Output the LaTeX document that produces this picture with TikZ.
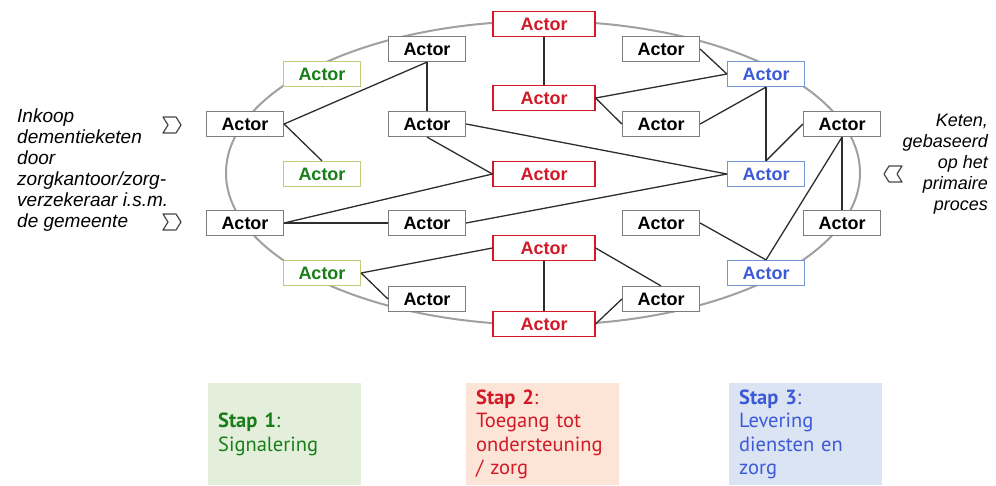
\documentclass[tikz,border=0pt]{standalone}
\usepackage{fontspec}
\setmainfont{Liberation Sans}
\newfontfamily\stapfont{PT Sans}
\usetikzlibrary{positioning}
\definecolor{actorgray}{RGB}{125, 125, 125}
\definecolor{linkgray}{RGB}{45, 45, 45}
\definecolor{ringgray}{RGB}{160, 160, 160}
\definecolor{chevgray}{RGB}{70, 70, 70}
\definecolor{greenline}{RGB}{190, 205, 125}
\definecolor{greentext}{RGB}{25, 125, 25}
\definecolor{redmain}{RGB}{210, 25, 40}
\definecolor{blueline}{RGB}{115, 150, 210}
\definecolor{bluetext}{RGB}{60, 90, 215}
\definecolor{greenfill}{RGB}{227, 239, 219}
\definecolor{redfill}{RGB}{252, 229, 215}
\definecolor{bluefill}{RGB}{219, 228, 243}

\begin{document}
\begin{tikzpicture}[x=1pt, y=-1pt,
  actor/.style={draw=actorgray, fill=white, line width=1.2pt, minimum width=77pt, minimum height=25pt, inner sep=0pt, font=\fontsize{18}{18}\selectfont\bfseries},
  greenactor/.style={actor, draw=greenline, text=greentext},
  redactor/.style={actor, draw=redmain, text=redmain, minimum width=102pt},
  blueactor/.style={actor, draw=blueline, text=bluetext},
  link/.style={draw=linkgray, line width=1.3pt},
  ring/.style={draw=ringgray, line width=2pt},
  chevron/.style={draw=chevgray, line width=1.2pt, line join=round},
  sidetext/.style={font=\fontsize{18}{21}\selectfont\itshape, inner sep=0pt},
  stapbox/.style={minimum height=102pt, text width=133pt, inner xsep=10pt, inner ysep=0pt, align=left, anchor=north west, font=\stapfont\fontsize{20.5}{23.5}\selectfont}]
  \useasboundingbox (0, 0) rectangle (996, 485);

  % the chain as a ring
  \draw[ring] (543, 173) ellipse (317 and 152);

  % step 1 column
  \node[actor] (l1) at (245, 124) {Actor};
  \node[actor] (l2) at (245, 223) {Actor};
  \node[greenactor] (g1) at (322, 74) {Actor};
  \node[greenactor] (g2) at (322, 174) {Actor};
  \node[greenactor] (g3) at (322, 273) {Actor};
  \node[actor] (m1) at (427, 49) {Actor};
  \node[actor] (m2) at (427, 124) {Actor};
  \node[actor] (m3) at (427, 223) {Actor};
  \node[actor] (m4) at (427, 299) {Actor};

  % step 2 column
  \node[redactor] (r1) at (544, 24) {Actor};
  \node[redactor] (r2) at (544, 98) {Actor};
  \node[redactor] (r3) at (544, 174) {Actor};
  \node[redactor] (r4) at (544, 248) {Actor};
  \node[redactor] (r5) at (544, 324) {Actor};

  % step 3 column
  \node[actor] (n1) at (661, 49) {Actor};
  \node[actor] (n2) at (661, 124) {Actor};
  \node[actor] (n3) at (661, 223) {Actor};
  \node[actor] (n4) at (661, 299) {Actor};
  \node[blueactor] (b1) at (766, 74) {Actor};
  \node[blueactor] (b2) at (766, 174) {Actor};
  \node[blueactor] (b3) at (766, 273) {Actor};
  \node[actor] (e1) at (842, 124) {Actor};
  \node[actor] (e2) at (842, 223) {Actor};

  % links
  \draw[link] (l1.east) -- (m1.south);
  \draw[link] (l1.east) -- (g2.north);
  \draw[link] (m1.south) -- (m2.north);
  \draw[link] (r1.south) -- (r2.north);
  \draw[link] (m2.east) -- (b2.west);
  \draw[link] (m2.south) -- (r3.west);
  \draw[link] (l2.east) -- (r3.west);
  \draw[link] (l2.east) -- (m3.west);
  \draw[link] (m3.east) -- (b2.west);
  \draw[link] (n1.east) -- (b1.west);
  \draw[link] (r2.east) -- (b1.west);
  \draw[link] (r2.east) -- (n2.west);
  \draw[link] (n2.east) -- (b1.south);
  \draw[link] (b1.south) -- (b2.north);
  \draw[link] (b2.north) -- (e1.west);
  \draw[link] (e1.south) -- (e2.north);
  \draw[link] (e1.south) -- (b3.north);
  \draw[link] (g3.east) -- (r4.west);
  \draw[link] (g3.east) -- (m4.west);
  \draw[link] (r4.south) -- (r5.north);
  \draw[link] (n3.east) -- (b3.north);
  \draw[link] (r4.east) -- (n4.north);
  \draw[link] (r5.east) -- (n4.west);

  % side texts and chevrons
  \node[sidetext, font=\fontsize{19}{21}\selectfont\itshape, anchor=north west, align=left] (inkoop) at (17, 109) {Inkoop\\dementieketen\\door\\zorgkantoor/zorg-\\verzekeraar i.s.m.\\de gemeente};
  \node[sidetext, anchor=north east, align=right] (keten) at (988, 114) {Keten,\\gebaseerd\\op het\\primaire\\proces};
  \draw[chevron] (163, 117) -- (176, 117) -- (181, 125) -- (176, 133) -- (163, 133) -- (168, 125) -- cycle;
  \draw[chevron] (163, 214) -- (176, 214) -- (181, 222) -- (176, 230) -- (163, 230) -- (168, 222) -- cycle;
  \draw[chevron] (902, 166) -- (889, 166) -- (884, 174) -- (889, 182) -- (902, 182) -- (897, 174) -- cycle;

  % steps
  \node[stapbox, fill=greenfill, text=greentext] (stap1) at (208, 383) {{\bfseries Stap 1}:\\Signalering};
  \node[stapbox, fill=redfill, text=redmain] (stap2) at (466, 383) {{\bfseries Stap 2}:\\Toegang tot\\ondersteuning\\/ zorg};
  \node[stapbox, fill=bluefill, text=bluetext] (stap3) at (729, 383) {{\bfseries Stap 3}:\\Levering\\diensten en\\zorg};
\end{tikzpicture}
\end{document}
